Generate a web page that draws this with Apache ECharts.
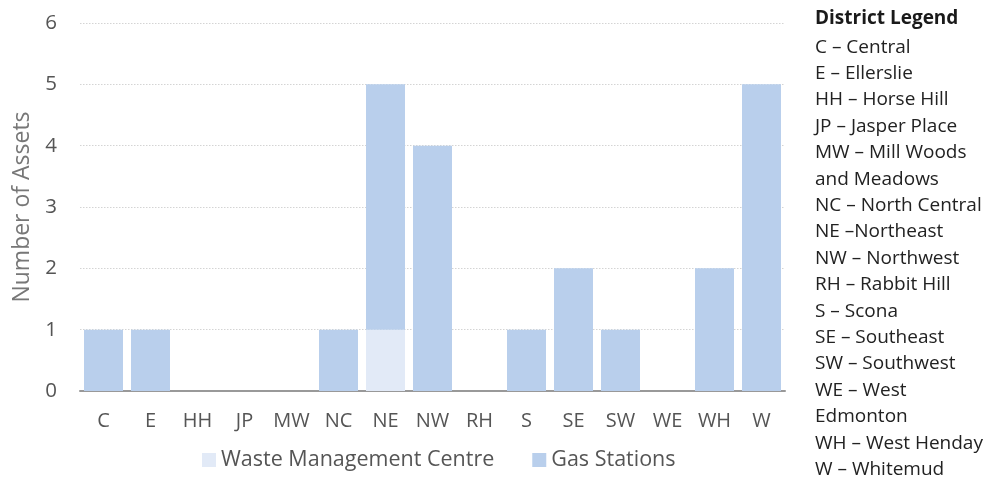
<!DOCTYPE html>
<html>
<head>
<meta charset="utf-8">
<script src="https://cdn.jsdelivr.net/npm/echarts@6/dist/echarts.min.js"></script>
<style>
  html, body { margin: 0; padding: 0; background: #fff; }
  #chart { width: 993px; height: 477px; }
</style>
</head>
<body>
<div id="chart"></div>
<script>
// District codes along the x axis
const districts = ['C', 'E', 'HH', 'JP', 'MW', 'NC', 'NE', 'NW', 'RH', 'S', 'SE', 'SW', 'WE', 'WH', 'W'];
// Asset counts per district
const wasteCentres = [0, 0, 0, 0, 0, 0, 1, 0, 0, 0, 0, 0, 0, 0, 0];
const gasStations  = [1, 1, 0, 0, 0, 1, 4, 4, 0, 1, 2, 1, 0, 2, 5];
// Key for the district abbreviations
const legendTitle = 'District Legend';
const legendLines = [
  'C – Central',
  'E – Ellerslie',
  'HH – Horse Hill',
  'JP – Jasper Place',
  'MW – Mill Woods',
  'and Meadows',
  'NC – North Central',
  'NE –Northeast',
  'NW – Northwest',
  'RH – Rabbit Hill',
  'S – Scona',
  'SE – Southeast',
  'SW – Southwest',
  'WE – West',
  'Edmonton',
  'WH – West Henday',
  'W – Whitemud'
];

const FONT = '"Open Sans", "Noto Sans", sans-serif';
const chart = echarts.init(document.getElementById('chart'), null, { renderer: 'canvas' });

chart.setOption({
  animation: false,
  textStyle: { fontFamily: FONT },
  grid: { left: 80, right: 208, top: 23, bottom: 86, containLabel: false },
  legend: {
    left: 197,
    top: 444,
    itemWidth: 14,
    itemHeight: 14,
    itemGap: 38,
    icon: 'rect',
    textStyle: { fontSize: 21.5, color: '#555', fontFamily: FONT },
    data: ['Waste Management Centre', 'Gas Stations']
  },
  xAxis: {
    type: 'category',
    data: districts,
    axisLine: { lineStyle: { color: '#999', width: 2 } },
    axisTick: { show: false },
    axisLabel: { interval: 0, fontSize: 20, color: '#555', margin: 20, fontFamily: FONT }
  },
  yAxis: {
    type: 'value',
    min: 0,
    max: 6,
    interval: 1,
    name: 'Number of Assets',
    nameLocation: 'middle',
    nameGap: 46,
    nameTextStyle: { fontSize: 23, color: '#777', fontFamily: FONT },
    axisLine: { show: false },
    axisTick: { show: false },
    axisLabel: { fontSize: 20.5, color: '#555', margin: 23, fontFamily: FONT },
    splitLine: { lineStyle: { color: '#d4d4d4', type: [1.5, 1.5], width: 1 } }
  },
  series: [
    {
      name: 'Waste Management Centre',
      type: 'bar',
      stack: 'assets',
      data: wasteCentres,
      barCategoryGap: '17%',
      itemStyle: { color: '#E2EAF7' }
    },
    {
      name: 'Gas Stations',
      type: 'bar',
      stack: 'assets',
      data: gasStations,
      barCategoryGap: '17%',
      itemStyle: { color: '#B9CFEC' }
    }
  ],
  graphic: [
    {
      type: 'text',
      left: 815,
      top: 9,
      style: {
        text: legendTitle,
        font: 'bold 19px ' + FONT,
        fill: '#1a1a1a'
      }
    },
    {
      type: 'text',
      left: 815,
      top: 34,
      style: {
        text: legendLines.join('\n'),
        font: '19px ' + FONT,
        lineHeight: 26.4,
        fill: '#222'
      }
    }
  ]
});
</script>
</body>
</html>
